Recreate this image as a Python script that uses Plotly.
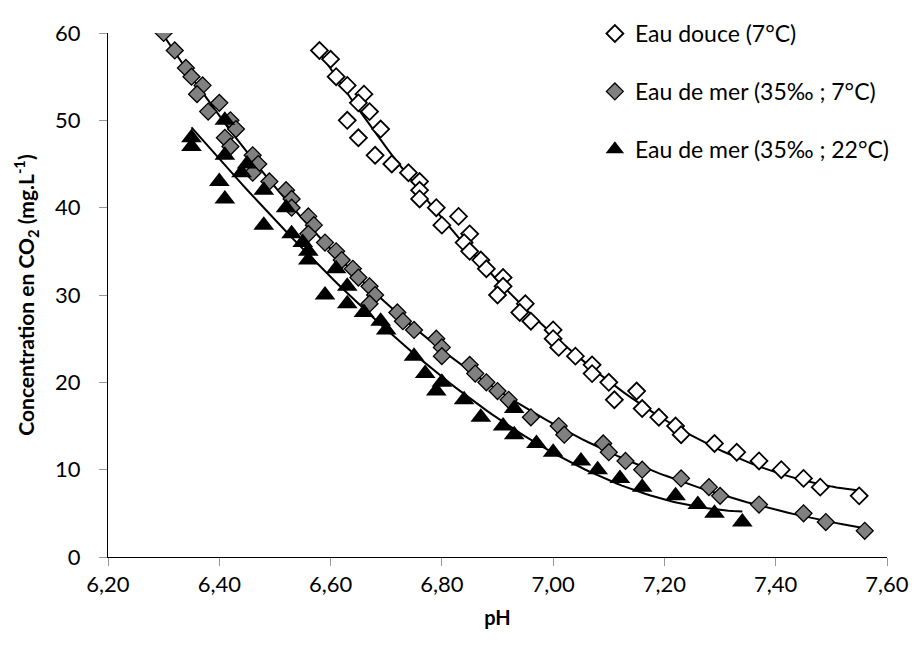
import numpy as np
import plotly.graph_objects as go

# Eau douce (7°C)
ph_douce = [6.58, 6.60, 6.61, 6.63, 6.66, 6.65, 6.67, 6.63, 6.69, 6.65, 6.68, 6.71, 6.74, 6.76, 6.76,
            6.76, 6.79, 6.83, 6.80, 6.85, 6.84, 6.85, 6.87, 6.88, 6.91, 6.91, 6.90, 6.95, 6.94, 6.96,
            7.00, 7.00, 7.01, 7.04, 7.07, 7.07, 7.10, 7.15, 7.11, 7.16, 7.19, 7.22, 7.23, 7.29, 7.33,
            7.37, 7.41, 7.45, 7.48, 7.55]
co2_douce = [58, 57, 55, 54, 53, 52, 51, 50, 49, 48, 46, 45, 44, 43, 42,
             41, 40, 39, 38, 37, 36, 35, 34, 33, 32, 31, 30, 29, 28, 27,
             26, 25, 24, 23, 22, 21, 20, 19, 18, 17, 16, 15, 14, 13, 12,
             11, 10, 9, 8, 7]

# Eau de mer (35‰ ; 7°C)
ph_mer7 = [6.30, 6.32, 6.34, 6.35, 6.37, 6.36, 6.40, 6.38, 6.42, 6.43, 6.41, 6.42, 6.46, 6.47, 6.46,
           6.49, 6.52, 6.53, 6.53, 6.56, 6.57, 6.56, 6.59, 6.61, 6.62, 6.64, 6.65, 6.67, 6.68, 6.67,
           6.72, 6.73, 6.75, 6.79, 6.80, 6.80, 6.85, 6.86, 6.88, 6.90, 6.92, 6.96, 7.01, 7.02, 7.09,
           7.10, 7.13, 7.16, 7.23, 7.28, 7.30, 7.37, 7.45, 7.49, 7.56]
co2_mer7 = [60, 58, 56, 55, 54, 53, 52, 51, 50, 49, 48, 47, 46, 45, 44,
            43, 42, 41, 40, 39, 38, 37, 36, 35, 34, 33, 32, 31, 30, 29,
            28, 27, 26, 25, 24, 23, 22, 21, 20, 19, 18, 16, 15, 14, 13,
            12, 11, 10, 9, 8, 7, 6, 5, 4, 3]

# Eau de mer (35‰ ; 22°C)
ph_mer22 = [6.35, 6.35, 6.41, 6.41, 6.40, 6.41, 6.44, 6.45, 6.48, 6.52, 6.48, 6.53, 6.55, 6.56, 6.56,
            6.61, 6.63, 6.59, 6.63, 6.66, 6.69, 6.70, 6.75, 6.77, 6.80, 6.79, 6.84, 6.93, 6.87, 6.91,
            6.93, 6.97, 7.00, 7.05, 7.08, 7.12, 7.16, 7.22, 7.26, 7.29, 7.34]
co2_mer22 = [48, 47, 50, 46, 43, 41, 44, 45, 42, 40, 38, 37, 36, 35, 34,
             33, 31, 30, 29, 28, 27, 26, 23, 21, 20, 19, 18, 17, 16, 15,
             14, 13, 12, 11, 10, 9, 8, 7, 6, 5, 4]

x_ticks = [6.20, 6.40, 6.60, 6.80, 7.00, 7.20, 7.40, 7.60]
y_ticks = [0, 10, 20, 30, 40, 50, 60]

FONT = "Lato"

def trend(xs, ys, deg=3):
    c = np.polyfit(xs, ys, deg)
    xx = np.linspace(min(xs), max(xs), 120)
    return xx, np.polyval(c, xx)

fig = go.Figure()

series = [
    (ph_douce, co2_douce, "Eau douce (7°C)",
     dict(symbol="diamond", size=13, color="white", line=dict(color="black", width=1.8))),
    (ph_mer7, co2_mer7, "Eau de mer (35‰ ; 7°C)",
     dict(symbol="diamond", size=13, color="#808080", line=dict(color="black", width=1.3))),
    (ph_mer22, co2_mer22, "Eau de mer (35‰ ; 22°C)",
     dict(symbol="triangle-up", size=18, color="black", line=dict(color="black", width=0))),
]

for i, (xs, ys, name, mk) in enumerate(series):
    tx, ty = trend(xs, ys)
    fig.add_trace(go.Scatter(x=tx, y=ty, mode="lines", line=dict(color="black", width=2),
                             showlegend=False, hoverinfo="skip"))
for i, (xs, ys, name, mk) in enumerate(series):
    fig.add_trace(go.Scatter(x=xs, y=ys, mode="markers", name=name, marker=mk,
                             legendgroup=f"g{i}"))

fig.update_layout(
    width=921, height=648,
    margin=dict(l=108, r=23, t=24, b=91),
    paper_bgcolor="white", plot_bgcolor="white",
    separators=", ",
    font=dict(family=FONT, size=22, color="black"),
    showlegend=True,
    legend=dict(x=0.625, y=1.04, xanchor="left", yanchor="top",
                bgcolor="rgba(0,0,0,0)", tracegroupgap=25,
                font=dict(family=FONT, size=23, color="black")),
    xaxis=dict(range=[6.2, 7.6], tickvals=x_ticks, tickformat=".2f",
               showgrid=False, zeroline=False, showline=True, linecolor="black", linewidth=1,
               ticks="outside", ticklen=8, tickcolor="#999999", tickwidth=1,
               tickfont=dict(family=FONT, size=22),
               title=dict(text="<b>pH</b>", font=dict(family=FONT, size=20), standoff=14)),
    yaxis=dict(range=[0, 60], tickvals=y_ticks, ticklabelstandoff=14,
               showgrid=False, zeroline=False, showline=True, linecolor="black", linewidth=1,
               ticks="outside", ticklen=8, tickcolor="#999999", tickwidth=1,
               tickfont=dict(family=FONT, size=22),
               title=dict(text="<b>Concentration en CO<sub>2</sub> (mg.L<sup>-1</sup>)</b>",
                          font=dict(family=FONT, size=21), standoff=14)),
)

fig.write_html("out.html")
